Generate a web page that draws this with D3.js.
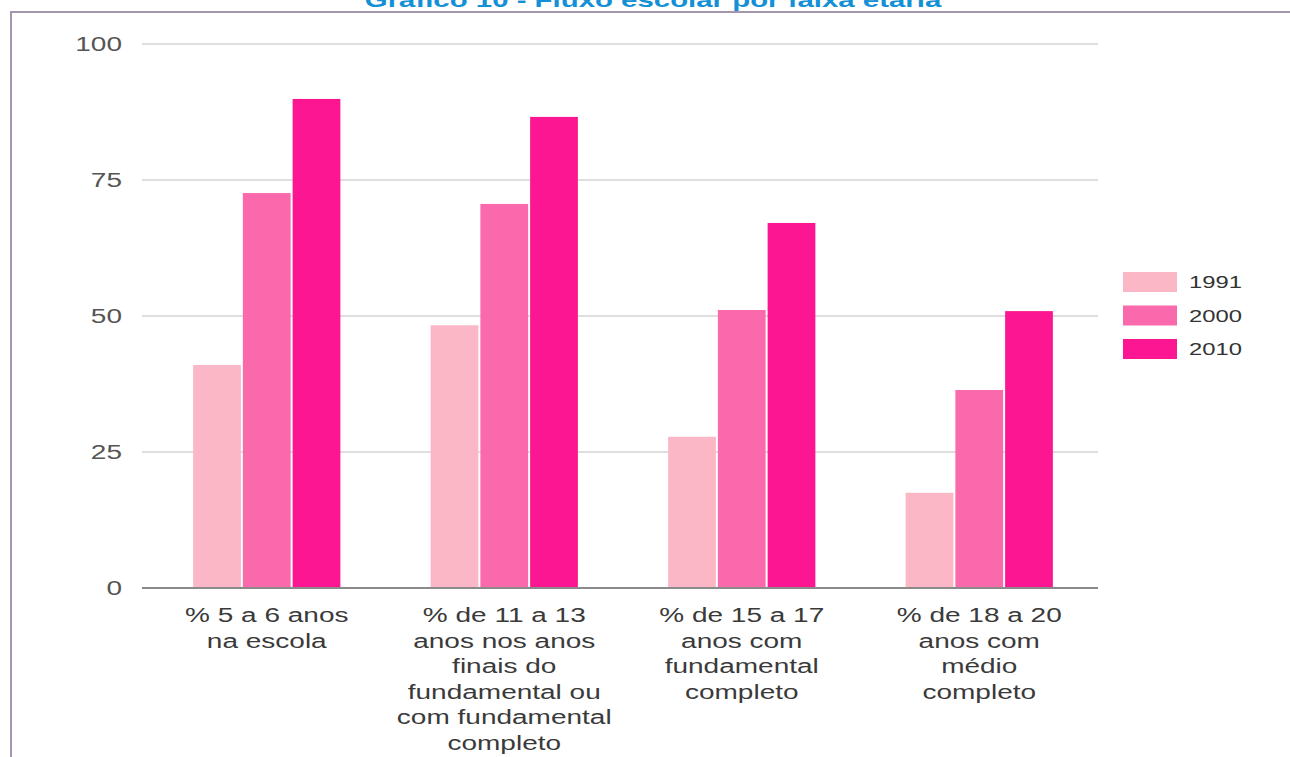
<!DOCTYPE html>
<html>
<head>
<meta charset="utf-8">
<script src="https://cdn.jsdelivr.net/npm/d3@7"></script>
<style>
  html, body { margin: 0; padding: 0; background: #fff; }
  svg { display: block; font-family: Arial, "Liberation Sans", sans-serif; }
</style>
</head>
<body>
<svg id="chart" width="1290" height="757"></svg>
<script>
const title = "Gráfico 10 - Fluxo escolar por faixa etária";
const categories = [
  ["% 5 a 6 anos", "na escola"],
  ["% de 11 a 13", "anos nos anos", "finais do", "fundamental ou", "com fundamental", "completo"],
  ["% de 15 a 17", "anos com", "fundamental", "completo"],
  ["% de 18 a 20", "anos com", "médio", "completo"]
];
const seriesNames = ["1991", "2000", "2010"];
const values1991 = [41.0, 48.3, 27.8, 17.5];
const values2000 = [72.6, 70.6, 51.1, 36.4];
const values2010 = [89.9, 86.6, 67.1, 50.9];
const yTicks = [0, 25, 50, 75, 100];
const colors = ["#fcb7c7", "#fb69ad", "#fc1692"];

const series = [values1991, values2000, values2010];
const stretch = 1.4;

const svg = d3.select("#chart");
const W = 1290, H = 757;
const plot = { left: 145, right: 1098, top: 44, bottom: 588 };

// frame
svg.append("path")
  .attr("d", `M11,${H} L11,12 L${W},12`)
  .attr("fill", "none").attr("stroke", "#a596ad").attr("stroke-width", 2);

// title (partly clipped at the top, as in the source image)
svg.append("text")
  .attr("transform", `translate(${W / 2 + 8},7) scale(${stretch},1)`)
  .attr("text-anchor", "middle")
  .attr("font-size", 21).attr("font-weight", "bold")
  .attr("fill", "#1490d6")
  .text(title);

const y = d3.scaleLinear().domain([0, 100]).range([plot.bottom, plot.top]);
const x0 = d3.scaleBand().domain(d3.range(categories.length))
  .range([plot.left + 3, plot.right]).paddingInner(0.38).paddingOuter(0.19);
const x1 = d3.scaleBand().domain(d3.range(seriesNames.length))
  .range([0, x0.bandwidth()]).paddingInner(0.04);

// gridlines
const grid = svg.append("g");
grid.selectAll("line").data(yTicks.filter(t => t > 0)).join("line")
  .attr("x1", plot.left - 3).attr("x2", plot.right)
  .attr("y1", d => y(d)).attr("y2", d => y(d))
  .attr("stroke", "#d3d3d3").attr("stroke-width", 1.5);

// y tick labels
svg.append("g").selectAll("text").data(yTicks).join("text")
  .attr("transform", d => `translate(122,${y(d)}) scale(${stretch},1)`)
  .attr("text-anchor", "end").attr("dy", "0.36em")
  .attr("font-size", 20).attr("fill", "#555")
  .text(d => d);

// bars
const groups = svg.append("g").selectAll("g").data(categories).join("g")
  .attr("transform", (d, i) => `translate(${x0(i)},0)`);
groups.selectAll("rect")
  .data((d, i) => series.map((s, k) => ({ k, v: s[i] })))
  .join("rect")
  .attr("x", d => x1(d.k)).attr("width", x1.bandwidth())
  .attr("y", d => y(d.v)).attr("height", d => y(0) - y(d.v))
  .attr("fill", d => colors[d.k]);

// baseline
svg.append("line")
  .attr("x1", plot.left - 3).attr("x2", plot.right)
  .attr("y1", y(0)).attr("y2", y(0))
  .attr("stroke", "#8a8a8a").attr("stroke-width", 2);

// category labels
const lab = svg.append("g").selectAll("g").data(categories).join("g");
lab.each(function (lines, i) {
  const cx = x0(i) + x0.bandwidth() / 2;
  d3.select(this).selectAll("text").data(lines).join("text")
    .attr("transform", (l, j) => `translate(${cx},${622 + j * 25.5}) scale(${stretch},1)`)
    .attr("text-anchor", "middle")
    .attr("font-size", 20).attr("fill", "#3a3a3a")
    .text(l => l);
});

// legend
const leg = svg.append("g").selectAll("g").data(seriesNames).join("g")
  .attr("transform", (d, i) => `translate(1123,${272 + i * 33.5})`);
leg.append("rect").attr("width", 54).attr("height", 20)
  .attr("fill", (d, i) => colors[i]);
leg.append("text")
  .attr("transform", `translate(66,10) scale(${stretch},1)`)
  .attr("dy", "0.36em").attr("font-size", 17).attr("fill", "#333")
  .text(d => d);
</script>
</body>
</html>
